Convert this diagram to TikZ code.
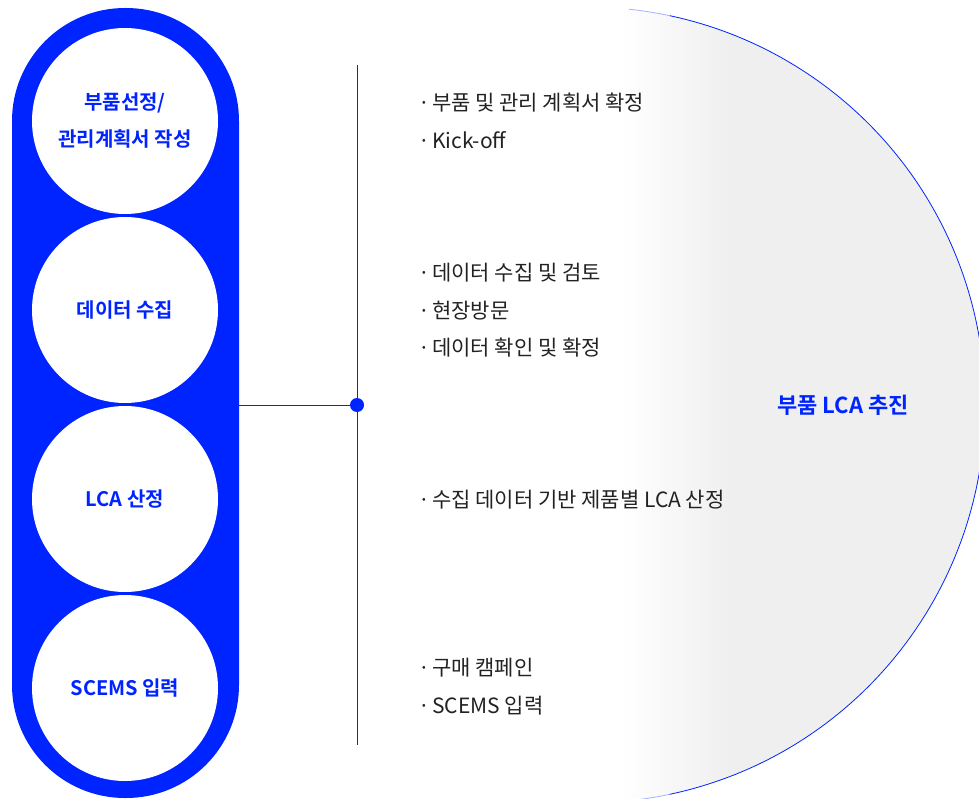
\documentclass[tikz,border=0pt]{standalone}
\usepackage{fontspec}
\setmainfont{Noto Sans CJK KR}[BoldFont={Noto Sans CJK KR Bold}]
\definecolor{mainblue}{RGB}{0,36,255}
\definecolor{shadegray}{RGB}{239,239,239}
\definecolor{textgray}{RGB}{34,34,34}
\newcommand{\bul}{\makebox[0.3em][c]{·}\ }
\begin{document}
\begin{tikzpicture}[x=1pt, y=-1pt,
    step circle/.style ={circle, fill=white, minimum size=186pt, inner sep=0pt,
      text=mainblue, font=\fontsize{20}{37}\selectfont\bfseries, align=center},
    item/.style ={anchor=west, text=textgray, font=\fontsize{21}{24}\selectfont, inner sep=0pt}]
   \useasboundingbox (0,0) rectangle (979,799);
   % big half circle on the right
   \begin{scope}
     \clip (587,405) circle (398);
     \shade[left color=white, right color=shadegray] (620,0) rectangle (730,800);
     \fill[shadegray] (730,0) rectangle (990,800);
   \end{scope}
   \draw[mainblue!35, line width=0.8pt] (587,405) ++(84:398) arc[start angle=84, end angle=78, radius=398];
   \draw[mainblue, line width=0.8pt] (587,405) ++(78:398) arc[start angle=78, end angle=-78, radius=398];
   \draw[mainblue!35, line width=0.8pt] (587,405) ++(-78:398) arc[start angle=-78, end angle=-84, radius=398];
   \node[text=mainblue, font=\fontsize{22}{24}\selectfont\bfseries] (G) at (843,405) {부품 LCA 추진};
   % pill with steps
   \fill[mainblue, rounded corners=113pt] (12,8) rectangle (239,798);
   \coordinate (P) at (239,405);
   \node[step circle] (S1) at (125,121) {부품선정/\\관리계획서 작성};
   \node[step circle] (S2) at (125,310) {데이터 수집};
   \node[step circle] (S3) at (125,499) {LCA 산정};
   \node[step circle] (S4) at (125,688) {SCEMS 입력};
   % connector and timeline
   \coordinate (T) at (357,65);
   \coordinate (B) at (357,745);
   \node[circle, fill=mainblue, minimum size=14pt, inner sep=0pt] (D) at (357,405) {};
   \draw[mainblue, line width=0.8pt] (T) to (B);
   \draw[mainblue, line width=0.8pt] (P) to (D);
   % items
   \node[item] (I1) at (421,103) {\bul 부품 및 관리 계획서 확정};
   \node[item] (I2) at (421,140) {\bul Kick-off};
   \node[item] (I3) at (421,273) {\bul 데이터 수집 및 검토};
   \node[item] (I4) at (421,311) {\bul 현장방문};
   \node[item] (I5) at (421,348) {\bul 데이터 확인 및 확정};
   \node[item] (I6) at (421,500) {\bul 수집 데이터 기반 제품별 LCA 산정};
   \node[item] (I7) at (421,668) {\bul 구매 캠페인};
   \node[item] (I8) at (421,706) {\bul SCEMS 입력};
\end{tikzpicture}
\end{document}
